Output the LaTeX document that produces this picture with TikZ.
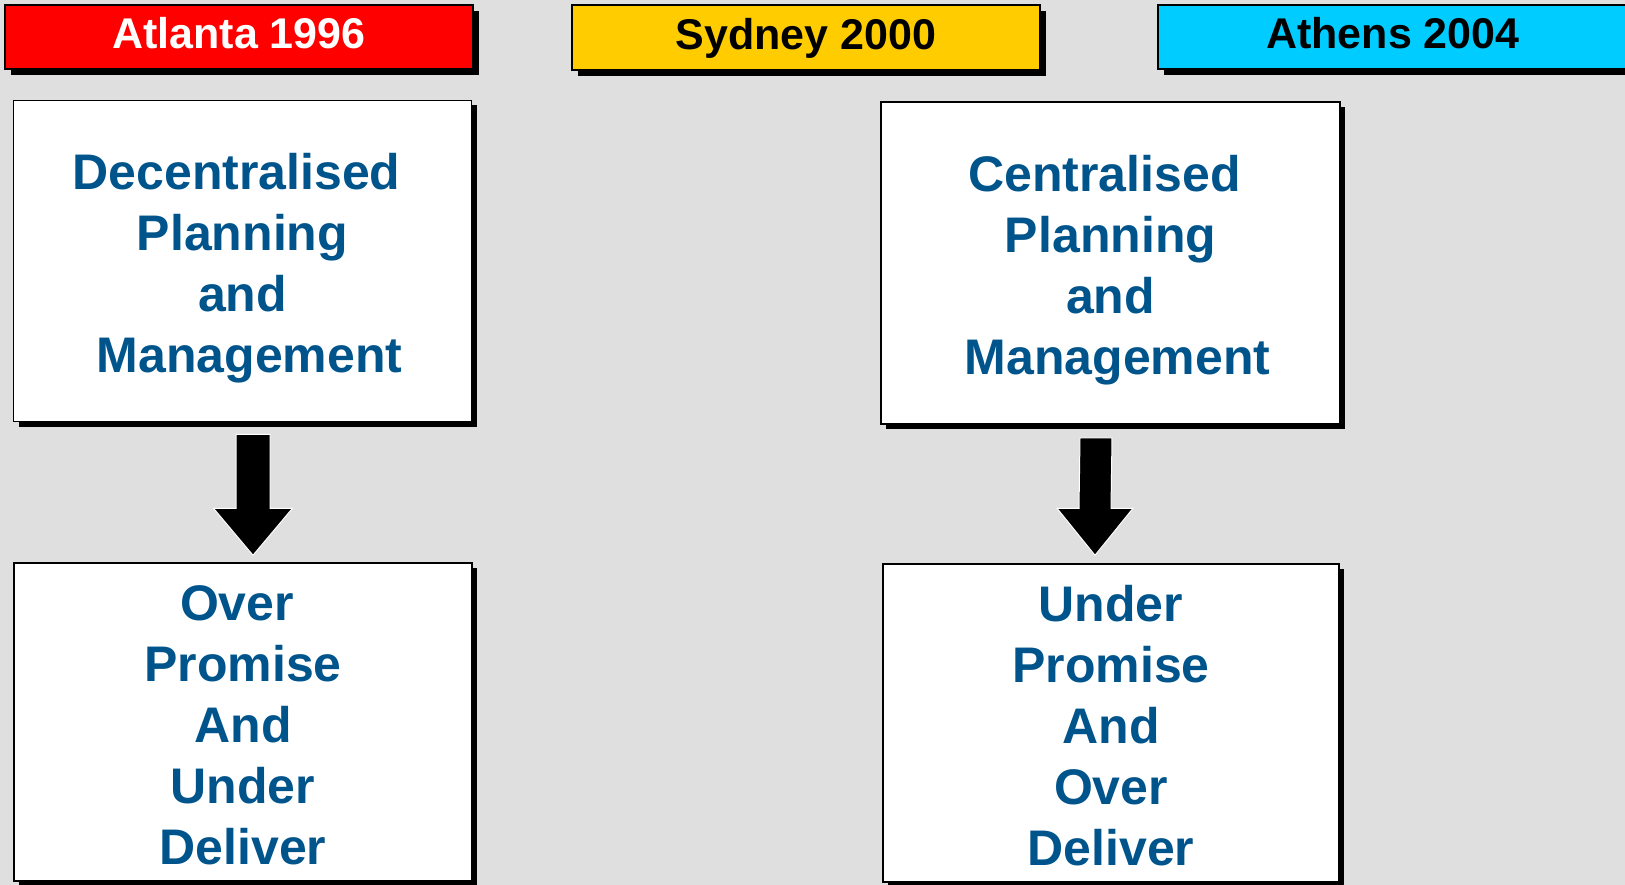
\documentclass[tikz,border=0pt]{standalone}
\usepackage{fontspec}
\setmainfont{Liberation Sans}
\usetikzlibrary{shadows,calc}
\definecolor{bg}{RGB}{223,223,223}
\definecolor{hred}{RGB}{255,0,0}
\definecolor{hyellow}{RGB}{255,204,0}
\definecolor{hcyan}{RGB}{0,204,255}
\definecolor{txtblue}{RGB}{0,84,140}
\begin{document}
\begin{tikzpicture}[x=1pt,y=-1pt,
  header/.style={draw=black, line width=1.5pt, minimum width=468pt, minimum height=64pt,
    inner sep=0pt, font=\fontsize{43}{50}\selectfont\bfseries, text height=31pt, text depth=7pt,
    drop shadow={shadow xshift=6pt,shadow yshift=-6pt,fill=black,opacity=1}},
  card/.style={draw=black, line width=1.5pt, fill=white, minimum width=458pt, inner sep=0pt,
    align=center, text=txtblue, font=\fontsize{50}{61}\selectfont\bfseries,
    drop shadow={shadow xshift=5pt,shadow yshift=-5pt,fill=black,opacity=1}},
  blockarrow/.style={fill=black, draw=white, line width=1pt, line join=miter}]
\fill[bg] (0,0) rectangle (1625,885);
\useasboundingbox (0,0) rectangle (1625,885);

% headers
\node[header, fill=hred, text=white] (h1) at (239,37) {Atlanta 1996};
\node[header, fill=hyellow, text=black, minimum height=65pt] (h2) at (806,37.5) {Sydney 2000};
\node[header, fill=hcyan, text=black, minimum width=470pt] (h3) at (1393,37) {Athens 2004};

% cards
\node[card, minimum height=321pt, text height=222pt, text depth=0pt] (tl) at (242.5,261)
  {Decentralised\hspace*{12pt}\\Planning\hspace*{12pt}\\and\\\hspace*{14pt}Management};
\node[card, minimum height=322pt, text height=222pt, text depth=0pt, minimum width=459pt] (tr) at (1110.5,263)
  {Centralised\hspace*{12pt}\\Planning\\and\\\hspace*{14pt}Management};
\node[card, minimum height=318pt, text height=285pt, text depth=0pt] (bl) at (243,722)
  {Over\hspace*{12pt}\\Promise\\And\\Under\\Deliver};
\node[card, minimum height=318pt, minimum width=456pt, text height=285pt, text depth=0pt] (br) at (1111,723)
  {Under\\Promise\\And\\Over\\Deliver};

% block arrows
\coordinate (a1t) at ($(tl.south)+(10.5,12)$);
\coordinate (a1h) at ($(bl.north)+(10,-7)$);
\coordinate (a2t) at ($(tr.south)+(-14.5,13)$);
\coordinate (a2h) at ($(br.north)+(-16,-8)$);
\draw[blockarrow] ($(a1t)+(-17,0)$) -- ($(a1t)+(17,0)$) -- ($(a1h)+(17,-47)$) -- ($(a1h)+(39.5,-47)$)
  -- (a1h) -- ($(a1h)+(-39.5,-47)$) -- ($(a1h)+(-17,-47)$) -- cycle;
\draw[blockarrow] ($(a2t)+(-16,0)$) -- ($(a2t)+(16,0)$) -- ($(a2h)+(16,-47)$) -- ($(a2h)+(38,-47)$)
  -- (a2h) -- ($(a2h)+(-38,-47)$) -- ($(a2h)+(-16,-47)$) -- cycle;
\end{tikzpicture}
\end{document}
